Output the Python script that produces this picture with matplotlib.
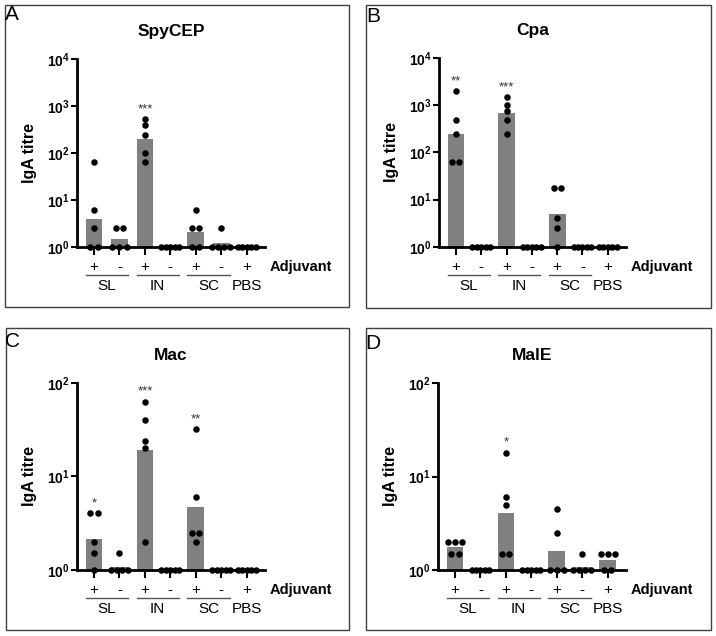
import matplotlib
matplotlib.use("Agg")
import matplotlib.pyplot as plt
from matplotlib.patches import Rectangle
import numpy as np

plt.rcParams["font.family"] = ["Liberation Sans", "DejaVu Sans"]
plt.rcParams["mathtext.fontset"] = "custom"
plt.rcParams["mathtext.rm"] = "Liberation Sans:bold"
plt.rcParams["mathtext.bf"] = "Liberation Sans:bold"

adjuvant = ["+", "-", "+", "-", "+", "-", "+"]
routes = ["SL", "IN", "SC", "PBS"]

spycep_pts = [[64, 6, 2.5, 1, 1], [2.5, 2.5, 1, 1, 1], [520, 400, 240, 100, 63],
              [1, 1, 1, 1, 1], [6, 2.5, 2.5, 1, 1], [2.5, 1, 1, 1, 1], [1, 1, 1, 1, 1]]
spycep_bar = [4, 1.45, 195, 1, 2.05, 1.2, 1]
spycep_sig = ["", "", "***", "", "", "", ""]

cpa_pts = [[2000, 500, 250, 64, 64], [1, 1, 1, 1, 1], [1500, 1000, 750, 500, 250],
           [1, 1, 1, 1, 1], [18, 18, 4, 2.5, 1], [1, 1, 1, 1, 1], [1, 1, 1, 1, 1]]
cpa_bar = [250, 1, 680, 1, 5, 1, 1]
cpa_sig = ["**", "", "***", "", "", "", ""]

mac_pts = [[4, 4, 2, 1.5, 1], [1.5, 1, 1, 1, 1], [63, 40, 24, 20, 2],
           [1, 1, 1, 1, 1], [32, 6, 2.5, 2.5, 2], [1, 1, 1, 1, 1], [1, 1, 1, 1, 1]]
mac_bar = [2.15, 1.08, 19, 1, 4.7, 1, 1]
mac_sig = ["*", "", "***", "", "**", "", ""]

male_pts = [[2, 2, 2, 1.5, 1.5], [1, 1, 1, 1, 1], [18, 6, 5, 1.5, 1.5],
            [1, 1, 1, 1, 1], [4.5, 2.5, 1, 1, 1], [1.5, 1, 1, 1, 1], [1.5, 1.5, 1.5, 1, 1]]
male_bar = [1.78, 1, 4.1, 1, 1.6, 1.08, 1.28]
male_sig = ["", "", "*", "", "", "", ""]

W, H = 716, 636


def swarm_offsets(vals, step=0.28, maxw=0.7):
    vals = np.asarray(vals, dtype=float)
    offs = np.zeros(len(vals))
    for v in np.unique(vals):
        idx = np.where(vals == v)[0]
        n = len(idx)
        if n > 1:
            w = min((n - 1) * step, maxw)
            offs[idx] = np.linspace(-w / 2, w / 2, n)
    return offs


def panel(fig, rect, box, letter, title, pts, bars, sig, ymax_exp):
    # outer frame
    x0, y0, x1, y1 = box
    fig.patches.append(Rectangle((x0 / W, 1 - y1 / H), (x1 - x0) / W, (y1 - y0) / H,
                                 transform=fig.transFigure, fill=False,
                                 edgecolor="#404040", linewidth=1.0))
    fig.text(rect[4] / W, 1 - rect[5] / H, letter, fontsize=15, ha="center", va="center")

    l, t, r, b = rect[:4]
    ax = fig.add_axes([l / W, 1 - b / H, (r - l) / W, (b - t) / H])
    x = np.arange(len(bars))
    ax.bar(x, bars, width=0.66, color="#808080", zorder=1)
    for i, vals in enumerate(pts):
        ax.scatter(x[i] + swarm_offsets(vals), vals, s=22, color="black",
                   zorder=5, clip_on=False, linewidths=0)
        if sig[i]:
            ax.annotate(sig[i], (x[i], max(vals)), xytext=(0, 3), textcoords="offset points",
                        ha="center", va="bottom", fontsize=9.5, color="#333333")

    ax.set_yscale("log")
    ax.set_ylim(1, 10 ** ymax_exp)
    ax.set_xlim(-0.67, 6.72)
    ticks = [10 ** k for k in range(ymax_exp + 1)]
    ax.set_yticks(ticks, [rf"$\mathbf{{10^{{{k}}}}}$" for k in range(ymax_exp + 1)], fontsize=10)
    ax.yaxis.set_minor_locator(matplotlib.ticker.NullLocator())
    ax.set_xticks(x, [""] * len(x))
    ax.tick_params(axis="y", length=4, width=1.5, pad=1)
    ax.tick_params(axis="x", length=6, width=1.5)
    for s in ["top", "right"]:
        ax.spines[s].set_visible(False)
    for s in ["left", "bottom"]:
        ax.spines[s].set_linewidth(2)
    ax.set_ylabel("IgA titre", fontsize=11.5, fontweight="bold")
    ax.yaxis.set_label_coords(-0.215, 0.5)
    ax.annotate(title, (0.5, 1), xycoords="axes fraction", xytext=(0, 20),
                textcoords="offset points", ha="center", va="center",
                fontsize=12.5, fontweight="bold")

    tr = ax.get_xaxis_transform()
    fy = 188.0 / (b - t)
    for i, a in enumerate(adjuvant):
        ax.text(x[i], -0.106 * fy, a, transform=tr, ha="center", va="center", fontsize=11)
    ax.text(6.92, -0.106 * fy, "Adjuvant", transform=tr, ha="left", va="center",
            fontsize=10.5, fontweight="bold")
    centers = [0.5, 2.5, 4.5, 6]
    for j, name in enumerate(routes):
        ax.text(centers[j], -0.209 * fy, name, transform=tr, ha="center", va="center", fontsize=11)
        if name != "PBS":
            ax.plot([centers[j] - 0.83, centers[j] + 0.83], [-0.15 * fy] * 2, transform=tr,
                    color="#555555", linewidth=1, clip_on=False)
    return ax


fig = plt.figure(figsize=(7.16, 6.36), dpi=100)
panel(fig, (77, 59, 265, 247, 12, 15), (5, 5, 349, 307), "A", "SpyCEP",
      spycep_pts, spycep_bar, spycep_sig, 4)
panel(fig, (439, 58.3, 626, 246.7, 373, 17), (366, 5, 711, 308), "B", "Cpa",
      cpa_pts, cpa_bar, cpa_sig, 4)
panel(fig, (77, 383, 265, 569.7, 12, 341), (6, 328, 349, 630), "C", "Mac",
      mac_pts, mac_bar, mac_sig, 2)
panel(fig, (438, 383, 626, 570, 373, 343), (366, 328, 711, 630), "D", "MalE",
      male_pts, male_bar, male_sig, 2)

fig.savefig("out.png", dpi=100)
